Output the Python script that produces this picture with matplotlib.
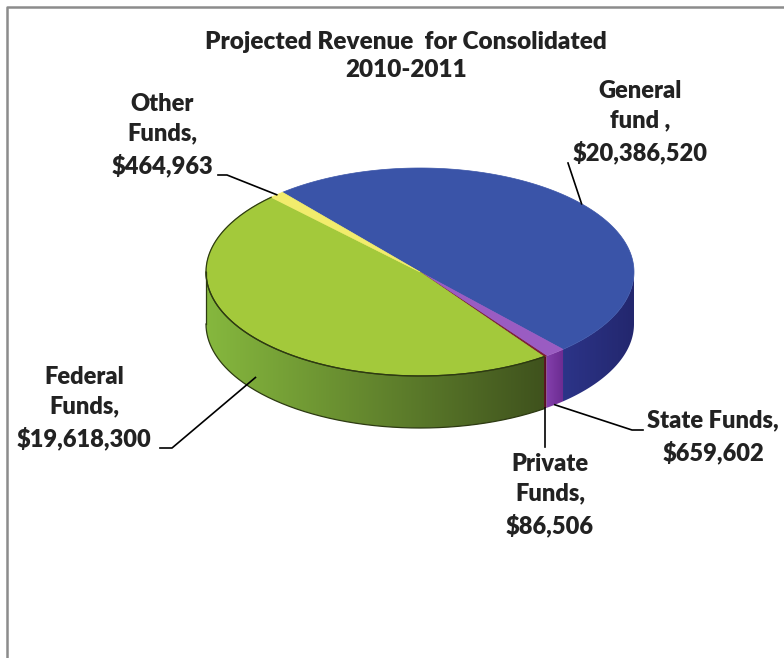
import numpy as np
import matplotlib.pyplot as plt
from matplotlib.patches import Polygon
from matplotlib.colors import LinearSegmentedColormap

plt.rcParams['font.family'] = ['Lato', 'DejaVu Sans']

# revenue by fund, in the clockwise order the slices are drawn
funds = ['General\nfund ,', 'State Funds,', 'Private\nFunds,', 'Federal\nFunds,', 'Other\nFunds,']
amounts = [20386520, 659602, 86506, 19618300, 464963]

top_colors = ['#3a54a8', '#9a5cc2', '#7a1c30', '#a3c93b', '#f2ec6c']
side_colors = [('#2c3488', '#23276e'), ('#8440ac', '#6c2c92'), ('#5e1222', '#501020'),
               ('#86b83e', '#3f521d'), ('#d4cc4c', '#bfb640')]

# label centres (pixels) and leader-line elbows
label_pos = [(640, 122), (713, 437), (550, 495), (84, 408), (162, 135)]
leader_elbow = [None, [(643, 430), (632, 430)], None, [(160, 448), (172, 448)], [(218, 175), (227, 175)]]
anchor_depth = [0.0, 1.0, 1.0, 0.75, 0.0]

cx, cy, rx, ry, depth = 420, 272, 214, 104, 52
start = 130.0  # angle of the first slice edge, degrees (slices run clockwise)


def ring(a0, a1, dz=0.0, n=200):
    t = np.radians(np.linspace(a0, a1, n))
    return np.column_stack([cx + rx * np.cos(t), cy - ry * np.sin(t) + dz])


fig = plt.figure(figsize=(7.84, 6.58), dpi=100)
ax = fig.add_axes([0, 0, 1, 1])
ax.set_xlim(0, 784)
ax.set_ylim(658, 0)
ax.axis('off')

# chart area border (left and top edges)
ax.plot([7, 7, 784], [658, 7, 7], color='#8c8c8c', lw=1.8, solid_capstyle='butt')

spans = np.array(amounts) / sum(amounts) * 360.0
edges = start - np.concatenate([[0], np.cumsum(spans)])

# outer wall: only the front half (-180..0 deg) is visible
for i in range(len(amounts)):
    hi, lo = edges[i], edges[i + 1]
    a_hi, a_lo = min(hi, 0.0), max(lo, -180.0)
    if a_hi <= a_lo:
        continue
    top = ring(a_lo, a_hi)
    bot = ring(a_hi, a_lo, dz=depth)
    poly = Polygon(np.vstack([top, bot]), closed=True, facecolor='none', edgecolor='none')
    ax.add_patch(poly)
    x0, x1 = top[:, 0].min(), top[:, 0].max()
    cmap = LinearSegmentedColormap.from_list('wall', side_colors[i])
    grad = np.linspace(0, 1, 256).reshape(1, -1)
    im = ax.imshow(grad, cmap=cmap, aspect='auto', interpolation='bilinear',
                   extent=[x0, x1, cy + ry + depth + 5, cy - ry - 5])
    im.set_clip_path(poly)
    if i == 3:
        ax.plot(bot[:, 0], bot[:, 1], color='#2d3a12', lw=0.9)
        ax.plot(top[:, 0], top[:, 1], color='#2d3a12', lw=0.9)
        ax.plot([top[0, 0], top[0, 0]], [top[0, 1], top[0, 1] + depth], color='#2d3a12', lw=0.9)

# top faces
for i in range(len(amounts)):
    arc = ring(edges[i], edges[i + 1])
    pts = np.vstack([[cx, cy], arc])
    ax.add_patch(Polygon(pts, closed=True, facecolor=top_colors[i],
                         edgecolor=top_colors[i], lw=0.5))
    if i == 3:
        ax.plot(arc[:, 0], arc[:, 1], color='#2d3a12', lw=0.9)

# labels and leader lines
for i, name in enumerate(funds):
    text = '%s\n$%s' % (name, format(amounts[i], ','))
    lx, ly = label_pos[i]
    ax.text(lx, ly, text, ha='center', va='center', fontsize=17, fontweight='heavy',
            color='#222222', linespacing=1.45)
    mid = np.radians((edges[i] + edges[i + 1]) / 2)
    ax_x = cx + rx * np.cos(mid)
    ax_y = cy - ry * np.sin(mid) + anchor_depth[i] * depth
    if leader_elbow[i] is None:
        if i == 0:
            path = [(568, 163), (ax_x, ax_y)]
        else:
            path = [(ax_x, 447), (ax_x, ax_y)]
    else:
        path = leader_elbow[i] + [(ax_x, ax_y)]
    px, py = zip(*path)
    ax.plot(px, py, color='black', lw=1.2)

ax.text(406, 56, 'Projected Revenue  for Consolidated\n2010-2011', ha='center', va='center',
        fontsize=17.5, fontweight='heavy', color='#222222', linespacing=1.35)

fig.savefig('out.png', dpi=100)
